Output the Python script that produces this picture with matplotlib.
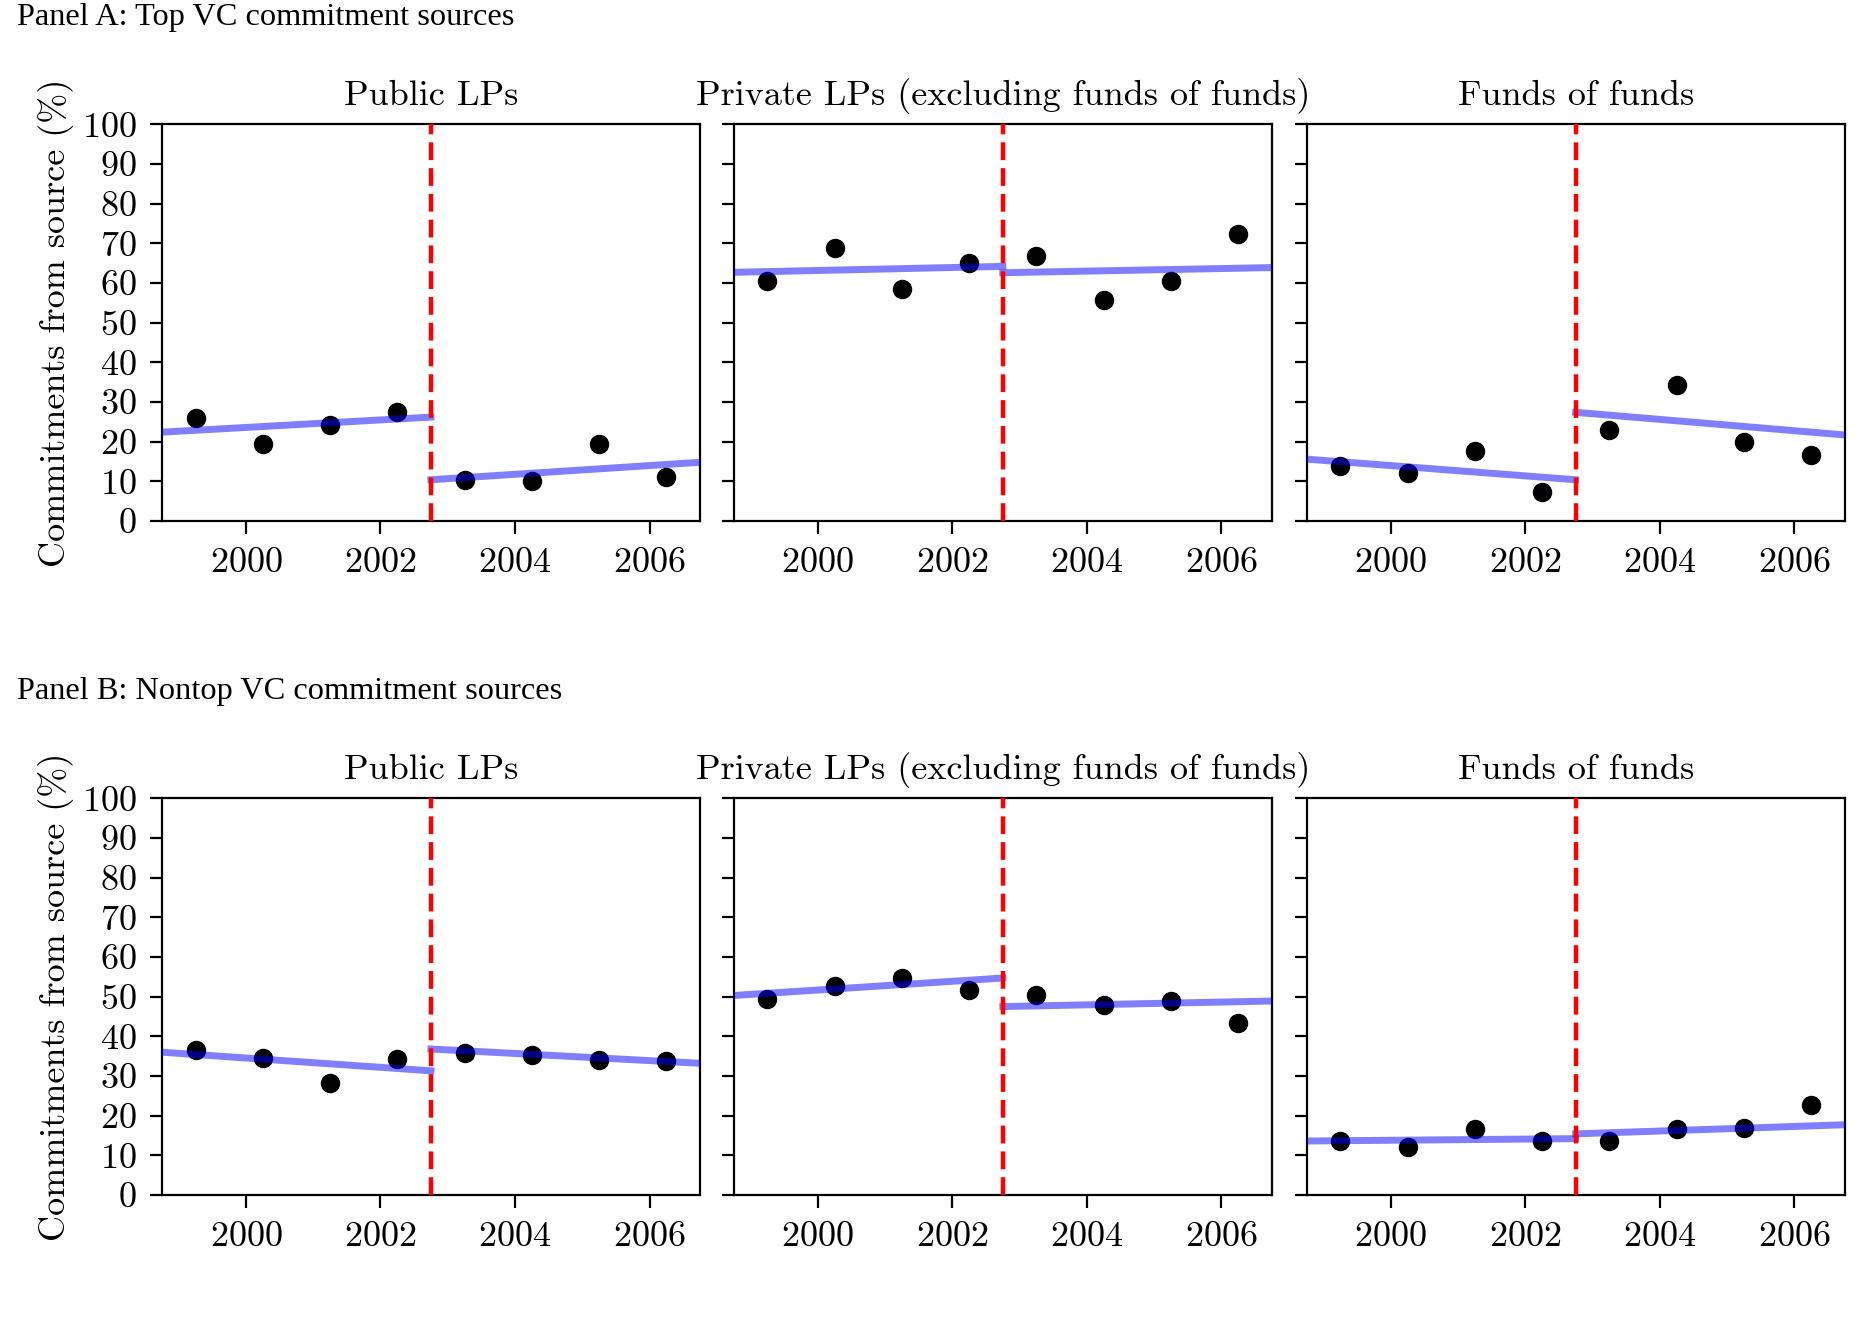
import numpy as np
import matplotlib
matplotlib.use("Agg")
import matplotlib.pyplot as plt
import logging
logging.getLogger("matplotlib.mathtext").setLevel(logging.ERROR)

plt.rcParams['font.family'] = 'serif'
plt.rcParams['font.serif'] = ['cmr10']
plt.rcParams['axes.formatter.use_mathtext'] = True

# years of the dots (fund vintage, plotted mid-year-ish)
years = [1999.25, 2000.25, 2001.25, 2002.25, 2003.25, 2004.25, 2005.25, 2006.25]
cutoff = 2002.75
x_lo, x_hi = 1998.75, 2006.75

titles = ['Public LPs', 'Private LPs (excluding funds of funds)', 'Funds of funds']
panel_names = ['Panel A: Top VC commitment sources',
               'Panel B: Nontop VC commitment sources']

# Panel A (top VCs)
top_public = [25.9, 19.3, 24.1, 27.6, 10.3, 10.1, 19.4, 11.1]
top_private = [60.4, 68.8, 58.6, 65.1, 66.8, 55.6, 60.5, 72.3]
top_fof = [13.9, 12.0, 17.6, 7.3, 23.0, 34.3, 19.9, 16.6]
# fitted lines: (start, end) before the cutoff and after
top_public_fit = [(22.4, 26.2), (10.4, 14.8)]
top_private_fit = [(62.7, 64.2), (62.6, 63.9)]
top_fof_fit = [(15.6, 10.4), (27.4, 21.7)]

# Panel B (nontop VCs)
nontop_public = [36.6, 34.6, 28.2, 34.4, 35.8, 35.3, 34.1, 33.8]
nontop_private = [49.5, 52.8, 54.7, 51.8, 50.3, 48.0, 48.8, 43.3]
nontop_fof = [13.6, 12.2, 16.6, 13.5, 13.5, 16.6, 16.8, 22.7]
nontop_public_fit = [(36.0, 31.3), (36.8, 33.2)]
nontop_private_fit = [(50.3, 54.7), (47.5, 48.9)]
nontop_fof_fit = [(13.6, 14.2), (15.4, 17.7)]

rows = [
    [(top_public, top_public_fit), (top_private, top_private_fit), (top_fof, top_fof_fit)],
    [(nontop_public, nontop_public_fit), (nontop_private, nontop_private_fit), (nontop_fof, nontop_fof_fit)],
]

fig = plt.figure(figsize=(18.72, 13.22), dpi=100)

lefts = [0.0865, 0.392, 0.698]
bottoms = [0.6059, 0.0961]
w, h = 0.2874, 0.300

for r in range(2):
    fig.text(0.009, [0.987, 0.477][r], panel_names[r], family='Liberation Serif',
             fontsize=23.3, va='center', ha='left')
    for c in range(3):
        ax = fig.add_axes([lefts[c], bottoms[r], w, h])
        vals, fit = rows[r][c]
        ax.plot(years, vals, 'o', color='black', markersize=13, zorder=2)
        ax.plot([x_lo, cutoff], fit[0], color='blue', alpha=0.5, linewidth=5, zorder=3)
        ax.plot([cutoff, x_hi], fit[1], color='blue', alpha=0.5, linewidth=5, zorder=3)
        ax.axvline(cutoff, color='red', linestyle=(0, (4, 1.8)), linewidth=3.2, zorder=4)
        ax.set_xlim(x_lo, x_hi)
        ax.set_ylim(0, 100)
        ax.set_xticks([2000, 2002, 2004, 2006])
        ax.set_yticks(np.arange(0, 101, 10))
        ax.tick_params(labelsize=26, width=1.6, length=9, direction='out')
        ax.tick_params(axis='x', pad=10)
        ax.tick_params(axis='y', pad=9)
        for s in ax.spines.values():
            s.set_linewidth(1.6)
        ax.set_title(titles[c], fontsize=26, pad=14)
        if c == 0:
            ax.set_ylabel('Commitments from source (%)', fontsize=26, labelpad=6)
        else:
            ax.set_yticklabels([])

fig.savefig('out.png', dpi=100)
